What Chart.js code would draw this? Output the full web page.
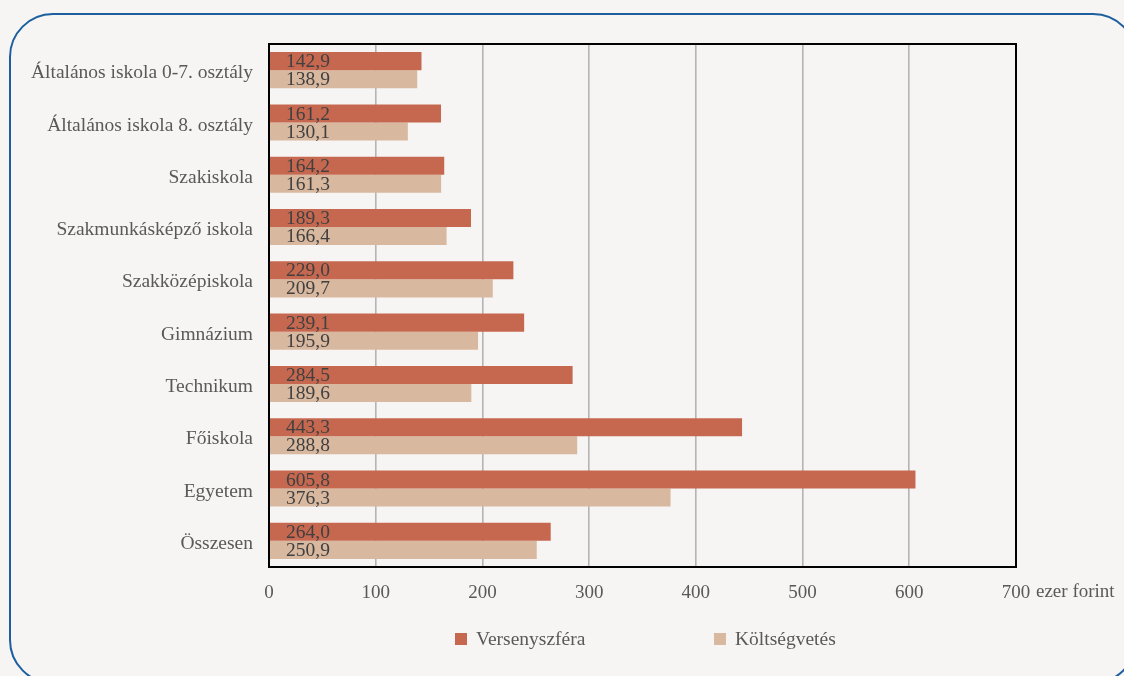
<!DOCTYPE html>
<html>
<head>
<meta charset="utf-8">
<script src="https://cdn.jsdelivr.net/npm/chart.js@4"></script>
<style>
  html, body { margin: 0; padding: 0; background: #f6f5f3; overflow: hidden; }
  #wrap { position: relative; width: 1124px; height: 676px; overflow: hidden; }
  #frame {
    position: absolute; left: 9px; top: 13px; width: 1128px; height: 671px;
    border: 2px solid #1d5e9f; border-radius: 44px; box-sizing: border-box;
  }
  #myChart { position: absolute; left: 0; top: 0; }
  .legend { position: absolute; top: 628px; font: 19.5px "Liberation Serif", serif; color: #595959; }
  .legend span.box { display: inline-block; width: 12px; height: 12px; margin-right: 9px; vertical-align: 0px; }
</style>
</head>
<body>
<div id="wrap">
  <div id="frame"></div>
  <canvas id="myChart" width="1124" height="676"></canvas>
  <div class="legend" id="leg0" style="left:455px"><span class="box"></span><span class="txt"></span></div>
  <div class="legend" id="leg1" style="left:714px"><span class="box"></span><span class="txt"></span></div>
</div>
<script>
const categories = [
  "Általános iskola 0-7. osztály",
  "Általános iskola 8. osztály",
  "Szakiskola",
  "Szakmunkásképző iskola",
  "Szakközépiskola",
  "Gimnázium",
  "Technikum",
  "Főiskola",
  "Egyetem",
  "Összesen"
];
const seriesNames = ["Versenyszféra", "Költségvetés"];
const versenyszfera = [142.9, 161.2, 164.2, 189.3, 229.0, 239.1, 284.5, 443.3, 605.8, 264.0];
const koltsegvetes = [138.9, 130.1, 161.3, 166.4, 209.7, 195.9, 189.6, 288.8, 376.3, 250.9];
const xTicks = [0, 100, 200, 300, 400, 500, 600, 700];
const unitLabel = "ezer forint";
const colors = ["#c66850", "#d8b89f"];

const FONT = '"Liberation Serif", serif';

// legend in html below the chart
seriesNames.forEach(function (name, i) {
  const el = document.getElementById("leg" + i);
  el.querySelector(".box").style.background = colors[i];
  el.querySelector(".txt").textContent = name;
});

// value labels at the left end of every bar
const valueLabels = {
  id: "valueLabels",
  afterDatasetsDraw: function (chart) {
    const ctx = chart.ctx;
    ctx.save();
    ctx.font = "19.5px " + FONT;
    ctx.fillStyle = "#404040";
    ctx.textBaseline = "middle";
    ctx.textAlign = "left";
    chart.data.datasets.forEach(function (ds, i) {
      chart.getDatasetMeta(i).data.forEach(function (bar, j) {
        const txt = ds.data[j].toFixed(1).replace(".", ",");
        ctx.fillText(txt, chart.chartArea.left + 17, bar.y + 1);
      });
    });
    ctx.restore();
  }
};

// black frame round the plot area and the unit after the last tick
const frameAndUnit = {
  id: "frameAndUnit",
  afterDraw: function (chart) {
    const ctx = chart.ctx;
    const a = chart.chartArea;
    ctx.save();
    ctx.strokeStyle = "#000";
    ctx.lineWidth = 2;
    ctx.strokeRect(a.left, a.top, a.right - a.left, a.bottom - a.top);
    const xs = chart.scales.x;
    const last = xTicks[xTicks.length - 1];
    ctx.font = "19px " + FONT;
    ctx.fillStyle = "#595959";
    ctx.textBaseline = "middle";
    ctx.textAlign = "left";
    const w = ctx.measureText(String(last)).width;
    ctx.fillText(" " + unitLabel, xs.getPixelForValue(last) + w / 2 + 1, 592);
    ctx.restore();
  }
};

new Chart(document.getElementById("myChart").getContext("2d"), {
  type: "bar",
  data: {
    labels: categories,
    datasets: [
      { label: seriesNames[0], data: versenyszfera, backgroundColor: colors[0] },
      { label: seriesNames[1], data: koltsegvetes, backgroundColor: colors[1] }
    ]
  },
  options: {
    indexAxis: "y",
    responsive: false,
    animation: false,
    layout: { padding: { top: 44, right: 108, bottom: 0, left: 0 } },
    datasets: { bar: { barPercentage: 1.0, categoryPercentage: 0.69 } },
    scales: {
      x: {
        min: 0,
        max: 700,
        afterFit: function (scale) { scale.height = 109; },
        afterBuildTicks: function (scale) {
          scale.ticks = xTicks.map(function (v) { return { value: v }; });
        },
        grid: { color: "#b4b4b4", lineWidth: 1.6, drawTicks: false },
        border: { display: false },
        ticks: { padding: 15, color: "#595959", font: { family: FONT, size: 19 }, maxRotation: 0 }
      },
      y: {
        afterFit: function (scale) { scale.width = 269; },
        grid: { display: false, drawTicks: false },
        border: { display: false },
        ticks: { padding: 16, labelOffset: 3, color: "#595959", font: { family: FONT, size: 19.5 } }
      }
    },
    plugins: {
      legend: { display: false },
      tooltip: { enabled: false }
    }
  },
  plugins: [valueLabels, frameAndUnit]
});
</script>
</body>
</html>
